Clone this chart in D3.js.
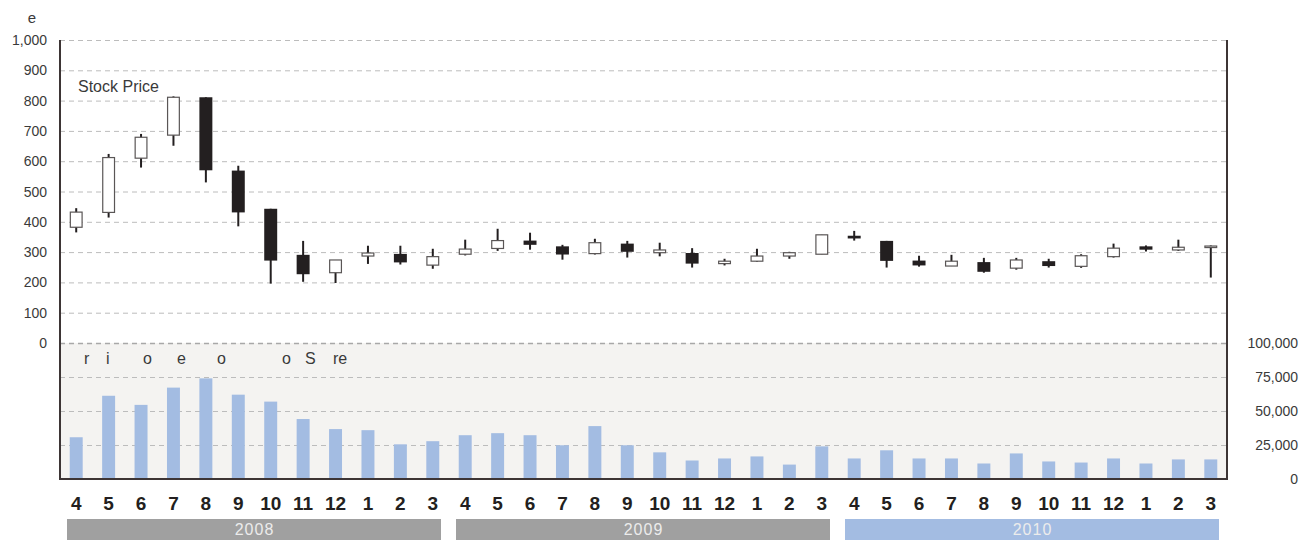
<!DOCTYPE html>
<html>
<head>
<meta charset="utf-8">
<script src="https://cdn.jsdelivr.net/npm/d3@7/dist/d3.min.js"></script>
<style>
  html, body { margin: 0; padding: 0; background: #fff; }
  svg { display: block; font-family: "Liberation Sans", Arial, Helvetica, sans-serif; }
</style>
</head>
<body>
<svg id="chart" width="1300" height="540"></svg>
<script>
// Monthly labels (fiscal years April–March)
const monthLabels = ["4","5","6","7","8","9","10","11","12","1","2","3",
                     "4","5","6","7","8","9","10","11","12","1","2","3",
                     "4","5","6","7","8","9","10","11","12","1","2","3"];
const yearLabels = ["2008", "2009", "2010"];

// Monthly stock price (open / high / low / close)
const openPrice  = [382, 431, 610, 686, 811, 569, 443, 291, 232, 287, 294, 257,
                    293, 312, 338, 319, 295, 328, 298, 297, 262, 270, 287, 293,
                    354, 337, 272, 254, 267, 247, 270, 253, 285, 319, 307, 315];
const highPrice  = [445, 624, 690, 814, 811, 585, 443, 337, 274, 321, 321, 311,
                    341, 377, 364, 324, 344, 337, 331, 313, 278, 311, 301, 357,
                    370, 337, 288, 291, 281, 281, 278, 293, 328, 322, 341, 322];
const lowPrice   = [365, 414, 579, 651, 530, 385, 196, 202, 198, 261, 259, 245,
                    289, 304, 308, 275, 292, 282, 286, 249, 256, 268, 278, 293,
                    338, 249, 252, 254, 232, 242, 249, 248, 282, 302, 304, 216];
const closePrice = [432, 612, 679, 811, 570, 431, 272, 227, 274, 297, 266, 285,
                    310, 338, 324, 292, 331, 301, 307, 262, 270, 287, 298, 357,
                    345, 271, 256, 270, 235, 274, 254, 288, 313, 308, 316, 320];

// Monthly trading volume (shares)
const volume = [30700, 61200, 54500, 67200, 74000, 62000, 56900, 44100, 36700, 35900, 25500, 27800,
                32200, 33700, 32200, 24800, 38900, 24800, 19600, 13600, 15100, 16600, 10600, 24000,
                15100, 21100, 15100, 15100, 11400, 18800, 12900, 12100, 15100, 11400, 14400, 14400];

const priceTicks  = [0, 100, 200, 300, 400, 500, 600, 700, 800, 900, 1000];
const volumeTicks = [0, 25000, 50000, 75000, 100000];

const svg = d3.select("#chart");
const left = 60, right = 1227;
const priceTop = 40, priceBottom = 343;
const volTop = 343, volBottom = 479;

const x = d3.scaleBand()
  .domain(d3.range(monthLabels.length))
  .range([left, right])
  .paddingInner(0.6)
  .paddingOuter(0.3);

const yPrice = d3.scaleLinear().domain([0, 1000]).range([priceBottom, priceTop]);
const yVol = d3.scaleLinear().domain([0, 100000]).range([volBottom, volTop]);

const fmt = d3.format(",");

// Volume panel background
svg.append("rect")
  .attr("x", left).attr("y", volTop)
  .attr("width", right - left).attr("height", volBottom - volTop)
  .attr("fill", "#f4f3f1");

// Price gridlines
svg.append("g")
  .selectAll("line")
  .data(priceTicks)
  .join("line")
  .attr("x1", left).attr("x2", right)
  .attr("y1", d => yPrice(d) + 0.5).attr("y2", d => yPrice(d) + 0.5)
  .attr("stroke", d => d === 0 ? "#a8a8a8" : "#bcbcbc")
  .attr("stroke-width", d => d === 0 ? 1.4 : 1)
  .attr("stroke-dasharray", "5,4");

// Volume gridlines
svg.append("g")
  .selectAll("line")
  .data(volumeTicks.filter(d => d > 0 && d < 100000))
  .join("line")
  .attr("x1", left).attr("x2", right)
  .attr("y1", d => yVol(d) + 0.5).attr("y2", d => yVol(d) + 0.5)
  .attr("stroke", "#bcbcbc")
  .attr("stroke-width", 1)
  .attr("stroke-dasharray", "5,4");

// Volume bars
svg.append("g")
  .selectAll("rect")
  .data(volume)
  .join("rect")
  .attr("x", (d, i) => x(i))
  .attr("width", x.bandwidth())
  .attr("y", d => yVol(d))
  .attr("height", d => yVol(0) - yVol(d))
  .attr("fill", "#a3bce2");

// Candlesticks
const candles = svg.append("g")
  .selectAll("g")
  .data(d3.range(openPrice.length))
  .join("g");

candles.append("line")
  .attr("x1", i => x(i) + x.bandwidth() / 2)
  .attr("x2", i => x(i) + x.bandwidth() / 2)
  .attr("y1", i => yPrice(highPrice[i]))
  .attr("y2", i => yPrice(lowPrice[i]))
  .attr("stroke", "#231f20")
  .attr("stroke-width", 2);

candles.append("rect")
  .attr("x", i => closePrice[i] >= openPrice[i] ? x(i) + 0.6 : x(i))
  .attr("width", i => closePrice[i] >= openPrice[i] ? x.bandwidth() - 1.2 : x.bandwidth())
  .attr("y", i => yPrice(Math.max(openPrice[i], closePrice[i])))
  .attr("height", i => Math.max(1.5, Math.abs(yPrice(openPrice[i]) - yPrice(closePrice[i]))))
  .attr("fill", i => closePrice[i] >= openPrice[i] ? "#ffffff" : "#231f20")
  .attr("stroke", i => closePrice[i] >= openPrice[i] ? "#5a5656" : "none")
  .attr("stroke-width", 1.2);

// Frame: left, right and bottom axis lines
svg.append("line")
  .attr("x1", left).attr("x2", left)
  .attr("y1", priceTop).attr("y2", volBottom + 1)
  .attr("stroke", "#3d3535").attr("stroke-width", 2);
svg.append("line")
  .attr("x1", right).attr("x2", right)
  .attr("y1", priceTop).attr("y2", volBottom + 1)
  .attr("stroke", "#3d3535").attr("stroke-width", 2);
svg.append("line")
  .attr("x1", left - 1).attr("x2", right + 1)
  .attr("y1", volBottom).attr("y2", volBottom)
  .attr("stroke", "#3d3535").attr("stroke-width", 2);

// Left (price) tick labels
svg.append("g")
  .selectAll("text")
  .data(priceTicks)
  .join("text")
  .attr("x", 47)
  .attr("y", d => yPrice(d))
  .attr("dy", "0.36em")
  .attr("text-anchor", "end")
  .attr("font-size", 14)
  .attr("fill", "#3a3a3a")
  .text(d => fmt(d));

// Right (volume) tick labels
svg.append("g")
  .selectAll("text")
  .data(volumeTicks)
  .join("text")
  .attr("x", 1298)
  .attr("y", d => yVol(d))
  .attr("dy", "0.36em")
  .attr("text-anchor", "end")
  .attr("font-size", 14)
  .attr("fill", "#3a3a3a")
  .text(d => fmt(d));

// Unit and panel titles
svg.append("text")
  .attr("x", 32).attr("y", 23)
  .attr("text-anchor", "middle")
  .attr("font-size", 15).attr("fill", "#3a3a3a")
  .text("e");

svg.append("text")
  .attr("x", 78).attr("y", 92)
  .attr("font-size", 16).attr("fill", "#3a3a3a")
  .text("Stock Price");

const volTitle = svg.append("text")
  .attr("y", 364)
  .attr("font-size", 16).attr("fill", "#3a3a3a");
[["r", 84], ["i", 106], ["o", 143], ["e", 177], ["o", 217], ["o", 282], ["S", 305], ["re", 333]]
  .forEach(([t, px]) => volTitle.append("tspan").attr("x", px).text(t));

// Month labels
svg.append("g")
  .selectAll("text")
  .data(monthLabels)
  .join("text")
  .attr("x", (d, i) => x(i) + x.bandwidth() / 2)
  .attr("y", 510)
  .attr("text-anchor", "middle")
  .attr("font-size", 19)
  .attr("font-weight", "bold")
  .attr("fill", "#231f20")
  .text(d => d);

// Fiscal year bands
const yearColors = ["#a0a0a0", "#a0a0a0", "#a3bce2"];
const yearG = svg.append("g")
  .selectAll("g")
  .data(yearLabels)
  .join("g");

yearG.append("rect")
  .attr("x", (d, k) => left + x.step() * 12 * k + 7)
  .attr("width", x.step() * 12 - 15)
  .attr("y", 519)
  .attr("height", 21)
  .attr("fill", (d, k) => yearColors[k]);

yearG.append("text")
  .attr("x", (d, k) => left + x.step() * 12 * (k + 0.5))
  .attr("y", 535)
  .attr("text-anchor", "middle")
  .attr("font-size", 16)
  .attr("letter-spacing", 1)
  .attr("fill", "#ececec")
  .text(d => d);
</script>
</body>
</html>
